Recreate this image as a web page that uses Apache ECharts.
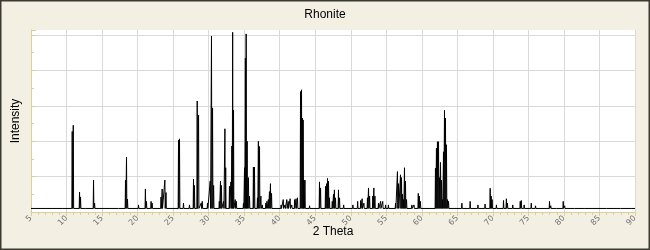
<!DOCTYPE html>
<html>
<head>
<meta charset="utf-8">
<script src="https://cdn.jsdelivr.net/npm/echarts@6/dist/echarts.min.js"></script>
<style>
html,body{margin:0;padding:0;background:#f3f0e3;}
#chart{width:650px;height:250px;}
</style>
</head>
<body>
<div id="chart"></div>
<script>
// ---- data ----
const titleText = "Rhonite";
const xName = "2 Theta";
const yName = "Intensity";
const xTicks = [5,10,15,20,25,30,35,40,45,50,55,60,65,70,75,80,85,90];
const baseline = 2;
const peakTheta = [
  9.43,10.8,10.95,11.83,11.97,12.67,13.8,13.95,17.37,18.3,18.44,18.58,20.13,21.1,21.25,21.9,22.05,
  23.3,23.46,23.84,24.0,25.76,25.9,26.46,27.3,27.87,28.0,28.39,28.58,28.95,29.1,29.84,30.22,30.4,
  30.55,30.7,31.5,31.67,31.8,32.1,32.29,32.4,32.93,33.13,33.27,33.38,33.5,33.74,33.9,34.9,35.05,
  35.17,35.28,35.42,35.6,35.75,36.3,36.45,36.87,37.0,37.16,37.35,37.55,38.05,38.2,38.4,38.56,38.7,
  38.85,40.2,40.5,40.75,41.0,41.2,41.47,41.7,42.1,42.3,42.5,42.93,43.07,43.2,43.3,43.42,43.55,
  44.2,45.6,45.75,46.45,46.6,46.73,46.87,47.0,47.4,47.57,47.7,47.85,48.27,48.42,49.0,50.3,50.97,
  51.4,51.6,51.85,52.35,52.5,52.65,53.1,53.25,53.4,53.9,54.2,54.5,54.9,55.3,56.3,56.57,56.72,57.0,
  57.14,57.28,57.42,57.56,57.7,57.85,58.6,58.9,59.5,59.65,59.8,61.92,62.06,62.2,62.35,62.49,62.63,
  62.77,62.9,63.05,63.19,63.33,63.47,63.62,63.76,65.64,66.8,67.9,68.9,69.62,69.76,69.9,70.5,71.5,
  71.9,72.05,72.8,73.85,74.0,74.4,75.4,76.0,77.97,78.15,79.0,79.9,80.1,81.5,83.0,84.0,86.0,88.0,89.5
];
const peakIntensity = [
  3,45.5,49,11.3,8.5,3,18,5,3,18,31,7.3,4,13,6,6,5,
  8.5,13,18,11,40.7,41.3,5,4,18.6,15,62.7,54.8,5,6,5,17.5,99.4,
  58.8,15,6,17.5,15,6,47,25,14.5,17,37.3,101.5,57.6,7,6,5,25,
  87,100.6,40,19.4,9,25.4,25.4,8,40,37,9,4,5,6,7,11.5,16,
  10.5,4,7,4,7,6,7.5,4,7,7.5,8,68,69,53,52,18,18,
  3.5,17,13.6,14.5,16,19,17.5,8,6,10,12.5,8,12.5,8,4,4,6,
  6.5,7.5,5,8,13.6,9,9,13.6,9,5,6,6,4,4,5,22.8,16,21,
  19.4,10,7,25,17.5,7,4,4,10.5,9,6,24.7,36,39.7,39.7,19.4,28,
  18,7,34,57.4,53,38,7,6,5,6,4,4.5,13.4,9,7,4,6.5,
  7.5,5,4,6,6.5,4,5,3.5,6,3.5,3,6,3.5,3,3,3,3,3,2.8
];

// build the line profile table from the peak lists
const halfWidth = 0.05;
const profile = [[5, baseline]];
for (let i = 0; i < peakTheta.length; i++) {
  profile.push([peakTheta[i] - halfWidth, baseline]);
  profile.push([peakTheta[i], peakIntensity[i]]);
  profile.push([peakTheta[i] + halfWidth, baseline]);
}
profile.push([90, baseline]);

const chart = echarts.init(document.getElementById('chart'), null, {renderer: 'canvas'});
const axisYellow = '#d8d096';
chart.setOption({
  backgroundColor: '#f3f0e3',
  animation: false,
  title: {
    text: titleText, left: 'center', top: 4,
    textStyle: {fontFamily: 'Liberation Sans', fontSize: 12, fontWeight: 'normal', color: '#000'}
  },
  grid: {
    left: 31, right: 15, top: 30, bottom: 38,
    show: true, backgroundColor: '#ffffff', borderWidth: 0
  },
  xAxis: {
    type: 'value', min: xTicks[0], max: xTicks[xTicks.length - 1], interval: 5,
    name: xName, nameLocation: 'middle', nameGap: 14, nameMoveOverlap: false,
    nameTextStyle: {fontFamily: 'Liberation Sans', fontSize: 12, color: '#000'},
    axisLine: {show: true, onZero: false, lineStyle: {color: axisYellow, width: 1}},
    axisTick: {show: true, inside: false, length: 4, lineStyle: {color: axisYellow}},
    minorTick: {show: true, splitNumber: 5, length: 3, lineStyle: {color: axisYellow}},
    axisLabel: {rotate: 45, margin: 5, fontFamily: 'DejaVu Sans', fontSize: 8, color: '#707070'},
    splitLine: {show: true, lineStyle: {color: '#d9d9d9', width: 1}}
  },
  yAxis: {
    type: 'value', min: 0, max: 102.8, interval: 20,
    name: yName, nameLocation: 'middle', nameGap: 9, nameRotate: 90, nameMoveOverlap: false,
    nameTextStyle: {fontFamily: 'Liberation Sans', fontSize: 12, color: '#000'},
    axisLine: {show: true, lineStyle: {color: axisYellow, width: 1}},
    axisTick: {show: true, inside: true, length: 5, lineStyle: {color: axisYellow}},
    minorTick: {show: true, splitNumber: 2, length: 3, lineStyle: {color: axisYellow}},
    axisLabel: {show: false},
    splitLine: {show: true, showMaxLine: false, lineStyle: {color: '#d9d9d9', width: 1}}
  },
  graphic: [{
    type: 'rect', silent: true, z: 100,
    shape: {x: 0.75, y: 0.75, width: 648.5, height: 248.5},
    style: {fill: 'none', stroke: '#3a3a32', lineWidth: 1.5}
  }],
  series: [{
    type: 'line', data: profile, showSymbol: false, symbol: 'none',
    lineStyle: {color: '#000000', width: 1}, clip: true
  }]
});
</script>
</body>
</html>
